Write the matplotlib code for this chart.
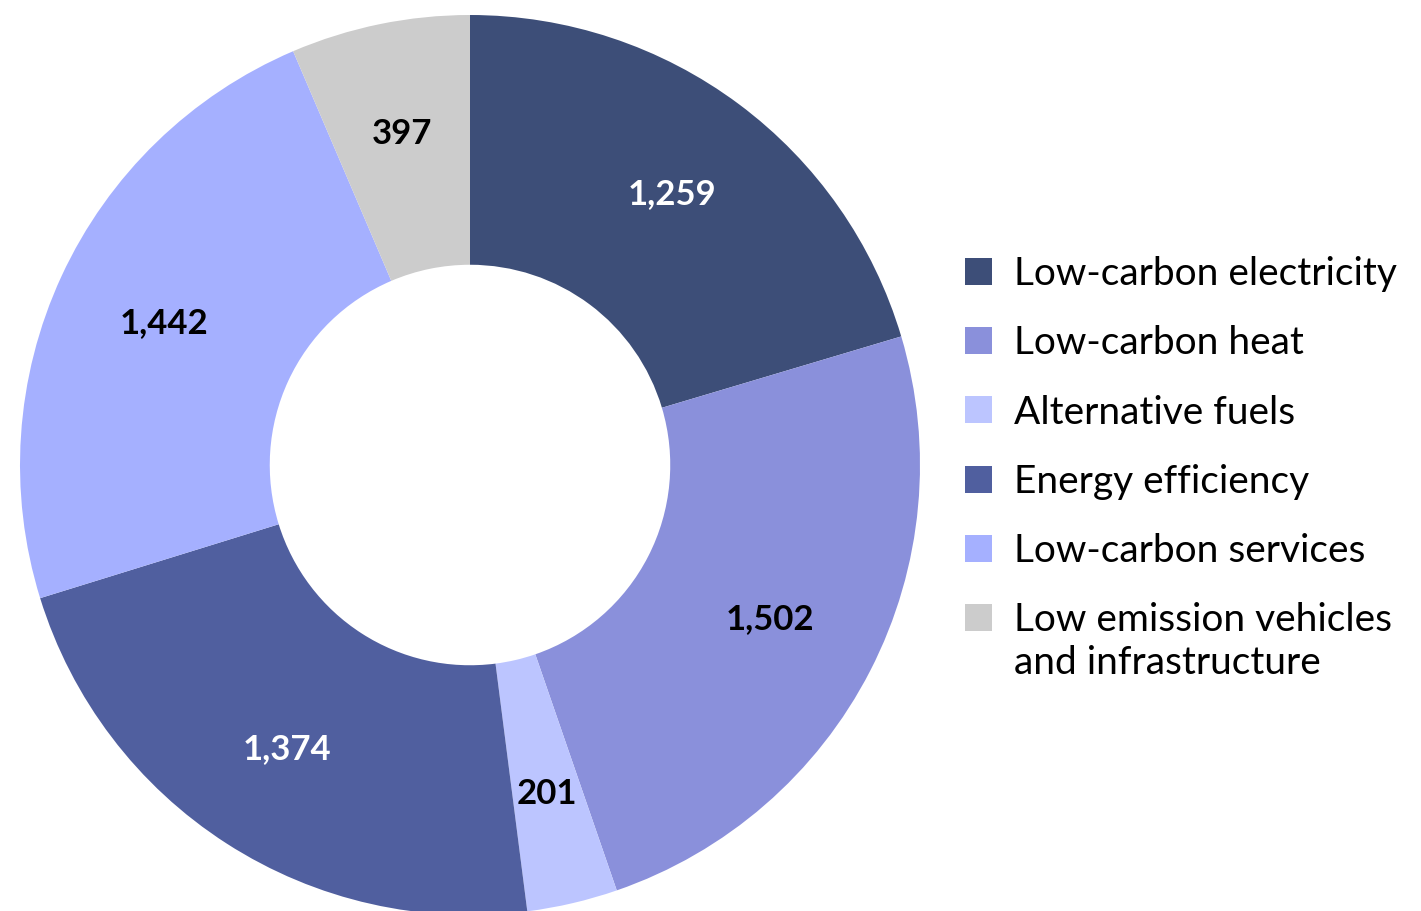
import numpy as np
import matplotlib
matplotlib.use('Agg')
import matplotlib.pyplot as plt

categories = ['Low-carbon electricity', 'Low-carbon heat', 'Alternative fuels',
              'Energy efficiency', 'Low-carbon services',
              'Low emission vehicles']
extra_line = 'and infrastructure'
values = [1259, 1502, 201, 1374, 1442, 397]
colors = ['#3d4e78', '#8a90db', '#bcc5ff', '#505f9f', '#a5b0ff', '#cccccc']
label_colors = ['white', 'black', 'black', 'white', 'black', 'black']

plt.rcParams['font.family'] = ['Lato', 'DejaVu Sans']

W, H = 1421, 911
fig = plt.figure(figsize=(W / 100, H / 100), dpi=100)
ax = fig.add_axes([20 / W, -4 / H, 900 / W, 900 / H])

wedges, texts = ax.pie(values, colors=colors, startangle=90, counterclock=False,
                       labels=[f'{v:,}' for v in values], labeldistance=0.75,
                       radius=1.0, wedgeprops=dict(width=0.555, linewidth=0))
for t, c in zip(texts, label_colors):
    t.set_ha('center')
    t.set_va('center')
    t.set_color(c)
    t.set_fontsize(25)
    t.set_fontweight('bold')
ax.set_xlim(-1, 1)
ax.set_ylim(-1, 1)
ax.set_aspect('equal')
ax.axis('off')

leg = fig.legend(wedges, categories, loc='upper left',
                 bbox_to_anchor=(965 / W, 1 - 256 / H), frameon=False,
                 fontsize=28, handlelength=0.69, handleheight=0.69,
                 handletextpad=0.58, labelspacing=0.856, borderaxespad=0,
                 borderpad=0)

# second line of the last legend entry, under its first line
fig.canvas.draw()
last = leg.get_texts()[-1]
bb = last.get_window_extent()
fig.text(bb.x0 / W, (bb.y0 - 43) / H, extra_line, fontsize=28,
         ha='left', va='bottom')

fig.savefig('out.png', dpi=100)
